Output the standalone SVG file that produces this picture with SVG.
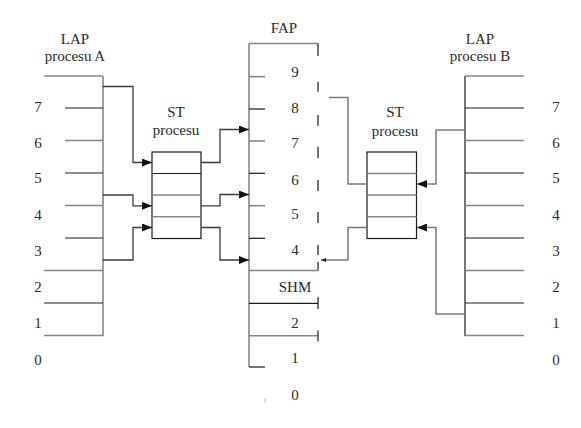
<svg xmlns="http://www.w3.org/2000/svg" width="581" height="428" viewBox="0 0 581 428" font-family="'Liberation Serif', 'Times New Roman', 'DejaVu Serif', serif">
<defs>
<marker id="arr" markerUnits="userSpaceOnUse" markerWidth="10" markerHeight="8" refX="10" refY="4" orient="auto">
<path d="M0,0 L10,4 L0,8 z" fill="#111"/>
</marker>
<marker id="arrs" markerUnits="userSpaceOnUse" markerWidth="5" markerHeight="4" refX="5" refY="2" orient="auto">
<path d="M0,0 L5,2 L0,4 z" fill="#222"/>
</marker>
</defs>
<style>
text{font-family:'Liberation Serif','Times New Roman','DejaVu Serif',serif;font-size:15px;fill:#2a2a2a;text-anchor:middle}
.k{stroke:#1a1a1a;stroke-width:1.2;fill:none}
.g{stroke:#858585;stroke-width:1.6;fill:none}
.c{stroke:#3a3a3a;stroke-width:1.3;fill:none}
.cg{stroke:#7a7a7a;stroke-width:1.5;fill:none}
</style>
<rect width="581" height="428" fill="#fff"/>

<g id="lap-a">
<text x="75" y="44">LAP</text>
<text x="75" y="61">procesu A</text>
<line class="g" x1="103" y1="76" x2="103" y2="336"/>
<line class="g" x1="44" y1="76" x2="103" y2="76"/>
<line class="k" x1="65" y1="108" x2="103" y2="108"/>
<line class="g" x1="65" y1="140.5" x2="103" y2="140.5"/>
<line class="k" x1="65" y1="173" x2="103" y2="173"/>
<line class="g" x1="65" y1="205.5" x2="103" y2="205.5"/>
<line class="k" x1="65" y1="238" x2="103" y2="238"/>
<line class="g" x1="44" y1="270.5" x2="103" y2="270.5"/>
<line class="k" x1="44" y1="303" x2="103" y2="303"/>
<line class="g" x1="44" y1="335.5" x2="103" y2="335.5"/>
<text x="38" y="112">7</text>
<text x="38" y="148">6</text>
<text x="38" y="183">5</text>
<text x="38" y="220">4</text>
<text x="38" y="256">3</text>
<text x="38" y="292">2</text>
<text x="38" y="328">1</text>
<text x="38" y="365">0</text>
</g>

<g id="st-a">
<text x="176" y="117">ST</text>
<text x="176" y="135">procesu</text>
<rect class="k" x="152" y="152" width="49" height="86.5"/>
<line class="k" x1="152" y1="173.5" x2="201" y2="173.5"/>
<line class="g" x1="152" y1="195" x2="201" y2="195"/>
<line class="g" x1="152" y1="216.8" x2="201" y2="216.8"/>
</g>

<g id="fap">
<text x="284" y="33">FAP</text>
<line class="g" x1="249" y1="43.5" x2="249" y2="367"/>
<line class="g" x1="249" y1="43.5" x2="318" y2="43.5"/>
<line class="k" x1="318" y1="43.5" x2="318" y2="56"/>
<line class="k" x1="318" y1="81.7" x2="318" y2="91.7"/>
<line class="k" x1="318" y1="115" x2="318" y2="125.7"/>
<line class="k" x1="318" y1="146.7" x2="318" y2="158.3"/>
<line class="k" x1="318" y1="180" x2="318" y2="191"/>
<line class="k" x1="318" y1="212" x2="318" y2="223"/>
<line class="k" x1="318" y1="245" x2="318" y2="255"/>
<line class="k" x1="318" y1="262" x2="318" y2="270.5"/>
<line class="g" x1="249" y1="76.7" x2="265" y2="76.7"/>
<line class="k" x1="249" y1="109" x2="265" y2="109"/>
<line class="g" x1="249" y1="141" x2="265" y2="141"/>
<line class="k" x1="249" y1="173.3" x2="265" y2="173.3"/>
<line class="g" x1="249" y1="205.7" x2="265" y2="205.7"/>
<line class="k" x1="249" y1="238.3" x2="265" y2="238.3"/>
<line class="g" x1="249" y1="270.5" x2="318" y2="270.5"/>
<line class="k" x1="249" y1="303.3" x2="318" y2="303.3"/>
<line class="k" x1="318" y1="297" x2="318" y2="309"/>
<line class="g" x1="249" y1="335.7" x2="318" y2="335.7"/>
<line class="k" x1="318" y1="330.5" x2="318" y2="341.5"/>
<line class="k" x1="249" y1="367" x2="265" y2="367"/>
<line stroke="#bbb" stroke-width="1" x1="265" y1="398" x2="265" y2="403"/>
<text x="295" y="77">9</text>
<text x="295" y="113">8</text>
<text x="295" y="148">7</text>
<text x="295" y="185">6</text>
<text x="295" y="219">5</text>
<text x="295" y="255">4</text>
<text x="295" y="292">SHM</text>
<text x="295" y="328">2</text>
<text x="295" y="363">1</text>
<text x="295" y="400">0</text>
</g>

<g id="st-b">
<text x="395" y="117">ST</text>
<text x="395" y="136">procesu</text>
<rect class="k" x="367" y="152" width="49.5" height="86.5"/>
<line class="g" x1="367" y1="173.5" x2="416.5" y2="173.5"/>
<line class="g" x1="367" y1="195" x2="416.5" y2="195"/>
<line class="g" x1="367" y1="216.8" x2="416.5" y2="216.8"/>
</g>

<g id="lap-b">
<text x="480" y="44">LAP</text>
<text x="480" y="61">procesu B</text>
<line class="k" x1="465" y1="76" x2="465" y2="336"/>
<line class="g" x1="465" y1="76" x2="524" y2="76"/>
<line class="k" x1="465" y1="108" x2="524" y2="108"/>
<line class="g" x1="465" y1="140.5" x2="524" y2="140.5"/>
<line class="k" x1="465" y1="173" x2="524" y2="173"/>
<line class="g" x1="465" y1="205.5" x2="524" y2="205.5"/>
<line class="k" x1="465" y1="238" x2="524" y2="238"/>
<line class="g" x1="465" y1="270.5" x2="524" y2="270.5"/>
<line class="k" x1="465" y1="303" x2="524" y2="303"/>
<line class="g" x1="465" y1="335.5" x2="524" y2="335.5"/>
<text x="556" y="112">7</text>
<text x="556" y="148">6</text>
<text x="556" y="183">5</text>
<text x="556" y="220">4</text>
<text x="556" y="256">3</text>
<text x="556" y="292">2</text>
<text x="556" y="328">1</text>
<text x="556" y="365">0</text>
</g>

<g id="connectors">
<path class="c" d="M103,86.5 H133 V162.5 H152" marker-end="url(#arr)"/>
<path class="c" d="M103,195 H133 V205.8 H152" marker-end="url(#arr)"/>
<path class="c" d="M103,260 H133 V227.5 H152" marker-end="url(#arr)"/>
<path class="c" d="M201,162.5 H220 V129.5 H249" marker-end="url(#arr)"/>
<path class="c" d="M201,205.8 H220 V194.5 H249" marker-end="url(#arr)"/>
<path class="c" d="M201,227.5 H220 V260 H249" marker-end="url(#arr)"/>
<path class="cg" d="M329,97.5 H348 V184 H367"/>
<path class="cg" d="M367,227.5 H348 V260 H321" marker-end="url(#arrs)"/>
<path class="cg" d="M465,130 H436 V184 H417" marker-end="url(#arr)"/>
<path class="cg" d="M465,314 H436 V227.5 H417" marker-end="url(#arr)"/>
</g>
</svg>
